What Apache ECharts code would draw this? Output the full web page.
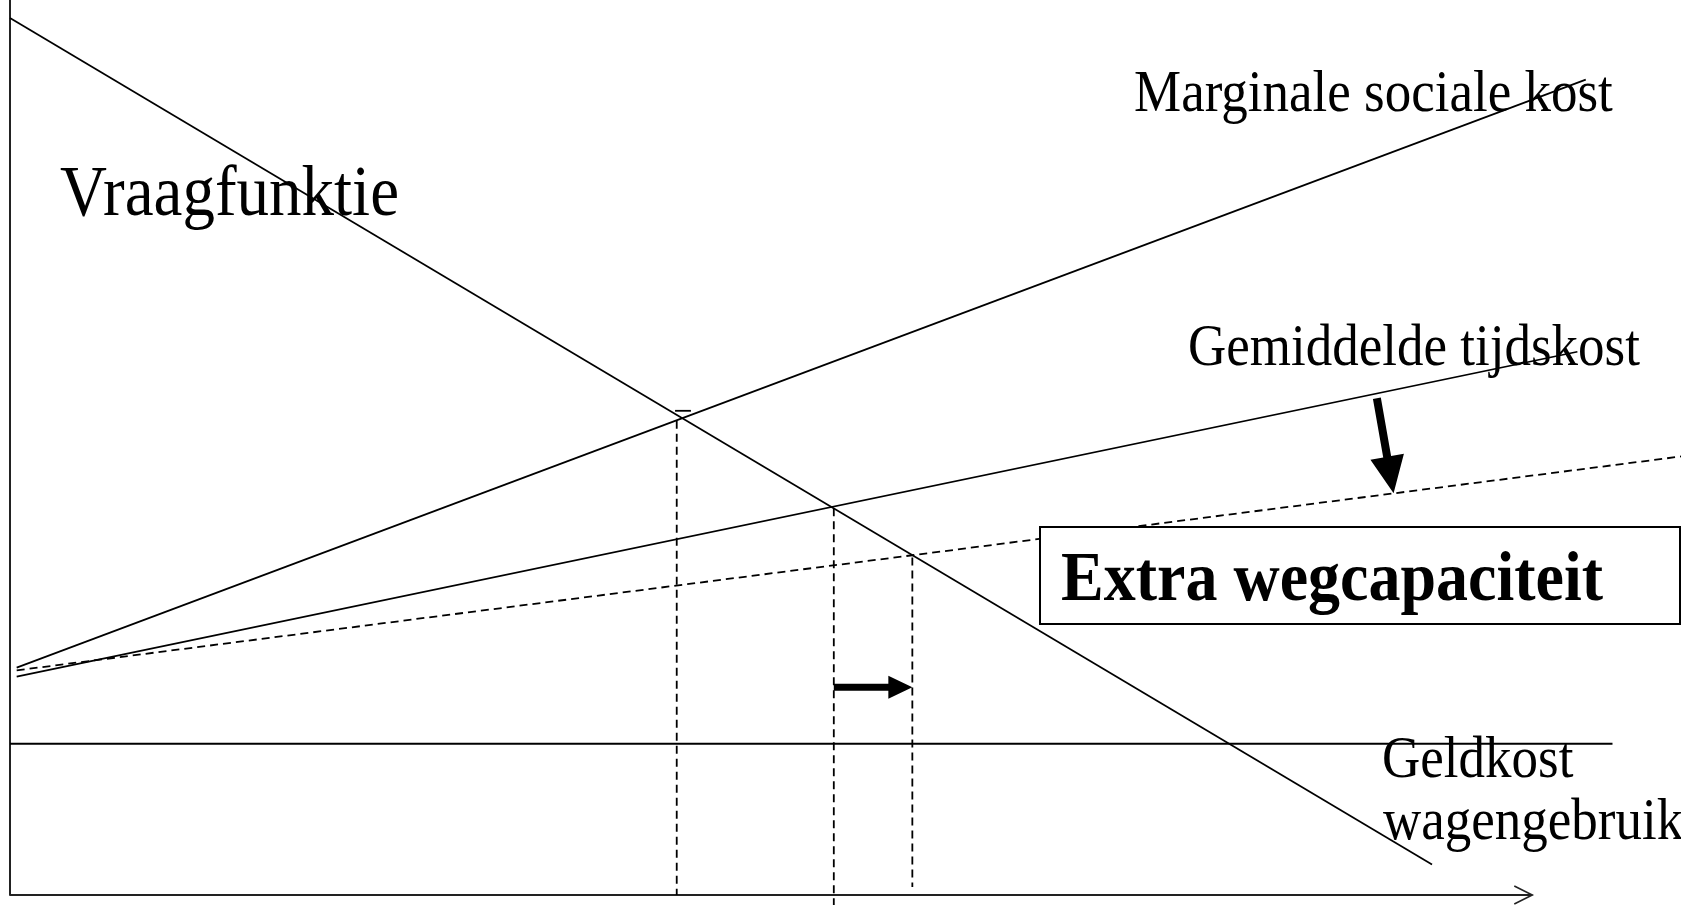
<!DOCTYPE html>
<html>
<head>
<meta charset="utf-8">
<title>Extra wegcapaciteit</title>
<script src="https://cdn.jsdelivr.net/npm/echarts@6/dist/echarts.min.js"></script>
<style>
    html, body { margin: 0; padding: 0; background: #fff; }
    #chart { width: 1681px; height: 905px; }
</style>
</head>
<body>
<div id="chart"></div>
<script>
    // schematic units: x 0..100, y 0..100
    const demand = [[0, 98.0], [85.1, 3.4]];
    const marginalSocialCost = [[0.4, 25.4], [94.3, 91.1]];
    const averageTimeCost = [[0.4, 24.4], [93.8, 60.7]];
    const averageTimeCostNew = [[0.4, 25.1], [100, 49.0]];
    const moneyCost = [[0, 16.9], [95.9, 16.9]];
    const quantityAxis = [[0, 0], [91.1, 0]];
    // x, top, bottom of the dashed drop lines
    const dropLines = [[39.9, 53.0, 0], [49.3, 43.2, -1.2], [54.0, 37.7, 0.9]];
    const equilibriumTick = [[39.8, 54.1], [40.75, 54.1]];
    const shiftArrow = [[49.3, 23.2, 54.0, 23.2]];
    const downArrow = [[81.8, 55.5, 82.8, 44.9]];

    const serif = '"Liberation Serif", "Times New Roman", serif';
    const stretch = 1.1;

    const chart = echarts.init(document.getElementById('chart'));

    function solid(data, width) {
        return {
            type: 'line',
            data: data,
            showSymbol: false,
            clip: false,
            silent: true,
            lineStyle: { color: '#000', width: width || 1.7 }
        };
    }

    function dashed(data) {
        const s = solid(data, 1.8);
        s.lineStyle.type = [8, 5];
        return s;
    }

    function blockArrow(p0, p1, shaftW, headW, headL) {
        const dx = p1[0] - p0[0], dy = p1[1] - p0[1];
        const len = Math.hypot(dx, dy);
        const ux = dx / len, uy = dy / len;
        const nx = -uy, ny = ux;
        const bx = p1[0] - ux * headL, by = p1[1] - uy * headL;
        const s = shaftW / 2, h = headW / 2;
        return [
            [p0[0] + nx * s, p0[1] + ny * s],
            [bx + nx * s, by + ny * s],
            [bx + nx * h, by + ny * h],
            p1,
            [bx - nx * h, by - ny * h],
            [bx - nx * s, by - ny * s],
            [p0[0] - nx * s, p0[1] - ny * s]
        ];
    }

    function arrowSeries(data, shaftW, headW, headL) {
        return {
            type: 'custom',
            data: data,
            clip: false,
            silent: true,
            encode: { x: [0, 2], y: [1, 3] },
            renderItem: function (params, api) {
                const p0 = api.coord([api.value(0), api.value(1)]);
                const p1 = api.coord([api.value(2), api.value(3)]);
                return {
                    type: 'polygon',
                    shape: { points: blockArrow(p0, p1, shaftW, headW, headL) },
                    style: { fill: '#000' }
                };
            }
        };
    }

    // open chevron at the end of the quantity axis
    const axisHead = {
        type: 'custom',
        data: [quantityAxis[1]],
        clip: false,
        silent: true,
        renderItem: function (params, api) {
            const p = api.coord([api.value(0), api.value(1)]);
            return {
                type: 'polyline',
                shape: { points: [[p[0] - 18, p[1] - 9], p, [p[0] - 18, p[1] + 9]] },
                style: { stroke: '#222', lineWidth: 1.6, fill: null }
            };
        }
    };

    function label(text, x, baseline, size, bold) {
        return {
            type: 'text',
            x: x,
            y: baseline,
            scaleY: stretch,
            z: 100,
            style: {
                text: text,
                x: 0,
                y: 0.195 * size,
                font: (bold ? 'bold ' : '') + size + 'px ' + serif,
                fill: '#000',
                textAlign: 'left',
                textVerticalAlign: 'bottom'
            }
        };
    }

    const series = [
        solid(demand),
        solid(marginalSocialCost),
        solid(averageTimeCost),
        dashed(averageTimeCostNew),
        solid(moneyCost, 1.9),
        solid(quantityAxis, 2),
        solid(equilibriumTick, 1.8)
    ];
    dropLines.forEach(d => series.push(dashed([[d[0], d[1]], [d[0], d[2]]])));
    series.push(arrowSeries(shiftArrow, 7, 23, 24));
    series.push(arrowSeries(downArrow, 8, 34, 37));
    series.push(axisHead);
    series[5].lineStyle.color = '#222';

    const option = {
        animation: false,
        backgroundColor: '#fff',
        grid: { left: 10, right: 0, top: 0, bottom: 10 },
        xAxis: {
            type: 'value',
            min: 0,
            max: 100,
            axisLine: { show: false },
            axisTick: { show: false },
            axisLabel: { show: false },
            splitLine: { show: false }
        },
        yAxis: {
            type: 'value',
            min: 0,
            max: 100,
            axisLine: { show: true, lineStyle: { color: '#222', width: 2 } },
            axisTick: { show: false },
            axisLabel: { show: false },
            splitLine: { show: false }
        },
        graphic: [
            {
                type: 'rect',
                z: 90,
                shape: { x: 1040, y: 527, width: 640, height: 97 },
                style: { fill: '#fff', stroke: '#000', lineWidth: 2 }
            },
            label('Extra wegcapaciteit', 1061, 603, 64, true),
            label('Vraagfunktie', 60, 218, 65),
            label('Marginale sociale kost', 1134, 113, 53),
            label('Gemiddelde tijdskost', 1188, 367, 53),
            label('Geldkost', 1382, 779, 53),
            label('wagengebruik', 1383, 841, 53)
        ],
        series: series
    };

    chart.setOption(option);
</script>
</body>
</html>
